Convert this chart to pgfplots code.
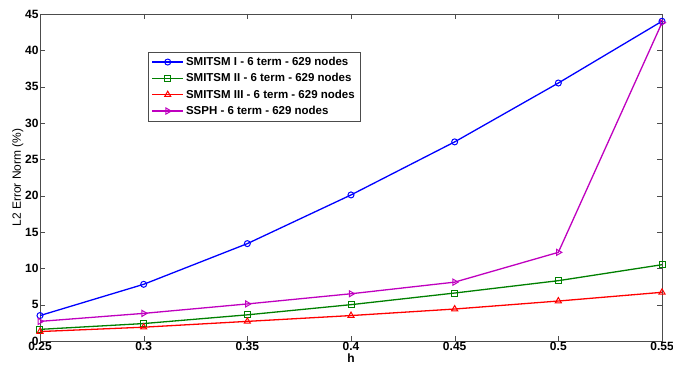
\documentclass[border=0pt]{standalone}
\usepackage{pgfplots}
\pgfplotsset{compat=1.18}
\usepackage{fontspec}
\setmainfont{Liberation Sans}
\usetikzlibrary{calc}
\definecolor{mblue}{rgb}{0,0,1}
\definecolor{mgreen}{rgb}{0,0.5,0}
\definecolor{mred}{rgb}{1,0,0}
\definecolor{mmag}{rgb}{0.75,0,0.75}
\begin{document}
\begin{tikzpicture}
\begin{axis}[
  scale only axis,
  width=622pt, height=327pt,
  xmin=0.25, xmax=0.55, ymin=0, ymax=45,
  xtick={0.25,0.3,0.35,0.4,0.45,0.5,0.55},
  xticklabels={0.25,0.3,0.35,0.4,0.45,0.5,0.55},
  ytick={0,5,...,45},
  tick align=inside,
  major tick length=5pt,
  tick style={black!70},
  axis line style={black!70},
  /pgf/number format/assume math mode=true,
  tick label style={font=\fontsize{12}{13}\selectfont\bfseries},
  xticklabel style={yshift=2pt},
  yticklabel style={xshift=2pt},
  xlabel={h}, ylabel={L2 Error Norm (\%)},
  xlabel style={yshift=4pt, font=\fontsize{12}{13}\selectfont\bfseries},
  ylabel style={yshift=-5pt, font=\fontsize{12}{13}\selectfont},
  legend style={at={(0.174,0.884)}, anchor=north west, font=\fontsize{11.5}{13}\selectfont\bfseries,
    draw=black!70, cells={anchor=west}, row sep=2.5pt, inner xsep=3pt, inner ysep=3pt},
  legend cell align=left,
  legend image code/.code={
    \draw[mark repeat=2,mark phase=2] plot coordinates {(0cm,0cm) (0.55cm,0cm) (1.1cm,0cm)};
  },
  every axis plot/.append style={line width=1.3pt},
]
\addplot[mblue, mark=o, mark size=3pt, mark options={mblue, solid, line width=1pt}] coordinates {
(0.25,3.5) (0.3,7.8) (0.35,13.4) (0.4,20.1) (0.45,27.4) (0.5,35.5) (0.55,44.0)};
\addlegendentry{SMITSM I - 6 term - 629 nodes}
\addplot[mgreen, mark=square, mark size=3pt, mark options={mgreen, solid, line width=1pt}] coordinates {
(0.25,1.6) (0.3,2.4) (0.35,3.6) (0.4,5.0) (0.45,6.6) (0.5,8.3) (0.55,10.5)};
\addlegendentry{SMITSM II - 6 term - 629 nodes}
\addplot[mred, mark=triangle, mark size=3.5pt, mark options={mred, solid, line width=1pt}] coordinates {
(0.25,1.3) (0.3,1.9) (0.35,2.7) (0.4,3.5) (0.45,4.4) (0.5,5.5) (0.55,6.7)};
\addlegendentry{SMITSM III - 6 term - 629 nodes}
\addplot[mmag, mark=triangle, mark size=3.5pt, mark options={mmag, solid, rotate=-90, line width=1pt}] coordinates {
(0.25,2.7) (0.3,3.8) (0.35,5.1) (0.4,6.5) (0.45,8.1) (0.5,12.2) (0.55,43.8)};
\addlegendentry{SSPH - 6 term - 629 nodes}
\end{axis}
\pgfresetboundingbox
\path ($(current axis.south west)+(-40pt,-26pt)$) rectangle ($(current axis.north east)+(11pt,14pt)$);
\end{tikzpicture}
\end{document}
